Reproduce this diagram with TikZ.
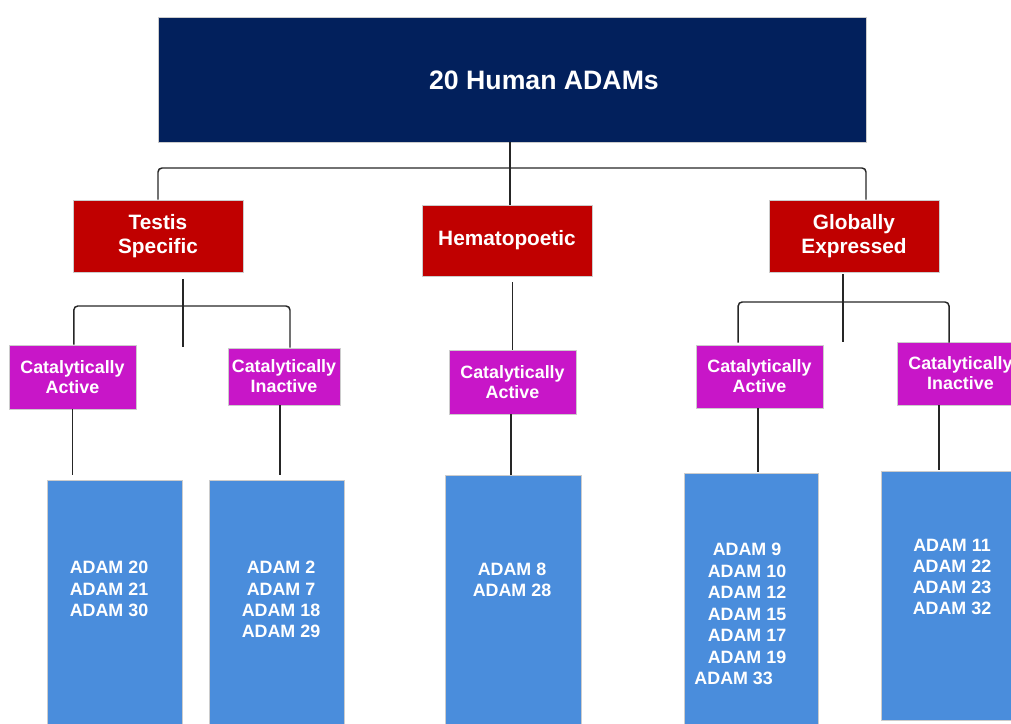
\documentclass[tikz,border=0pt]{standalone}
\usepackage{fontspec}
\setmainfont{Liberation Sans}
\usetikzlibrary{positioning}

\definecolor{adamnavy}{RGB}{2,32,92}
\definecolor{adamred}{RGB}{192,0,0}
\definecolor{adammagenta}{RGB}{200,22,200}
\definecolor{adamblue}{RGB}{74,141,220}

\tikzset{
  tree/.style={draw=black!85, line width=1.1pt},
  topbox/.style={fill=adamnavy, draw=black!20, line width=0.4pt, inner sep=0pt,
    minimum width=531pt, minimum height=93.75pt},
  toptext/.style={text=white, font=\fontsize{20}{24}\selectfont\bfseries},
  groupbox/.style={fill=adamred, draw=black!20, line width=0.4pt, inner sep=0pt,
    minimum width=127.5pt, minimum height=54pt, align=center, text=white,
    font=\fontsize{15.6}{17.5}\selectfont\bfseries},
  catbox/.style={fill=adammagenta, draw=black!20, line width=0.4pt, inner sep=0pt,
    minimum width=95.25pt, minimum height=48pt, align=center, text=white,
    font=\fontsize{13.4}{15}\selectfont\bfseries},
  listbox/.style={fill=adamblue, draw=black!20, line width=0.4pt, inner sep=0pt,
    anchor=north, minimum width=101.25pt, minimum height=195pt},
  listtext/.style={align=center, text=white, inner sep=0pt,
    font=\fontsize{13.4}{15.9}\selectfont\bfseries}
}

\begin{document}
\begin{tikzpicture}[x=0.75pt,y=-0.75pt]
\useasboundingbox (0,0) rectangle (1011,724);
\clip (0,0) rectangle (1011,724);

% top
\node[topbox] (adams) at (512,79.5) {};
\node[toptext] (title) at (544,80) {20 Human ADAMs};

% expression groups
\node[groupbox] (testis) at (158,236) {Testis\\Specific};
\node[groupbox, minimum height=53.25pt] (hemato) at (507,240.5) {Hematopoetic};
\node[groupbox] (global) at (854,236) {Globally\\Expressed};

% catalytic groups
\node[catbox] (tsact) at (72.5,377) {Catalytically\\Active};
\node[catbox, minimum width=84pt, minimum height=42.75pt] (tsinact) at (284,376.5) {Catalytically\\Inactive};
\node[catbox] (hmact) at (512.5,382) {Catalytically\\Active};
\node[catbox, minimum height=47.25pt] (glact) at (759.5,376.5) {Catalytically\\Active};
\node[catbox, minimum height=47.25pt] (glinact) at (960.5,373.5) {Catalytically\\Inactive};

% member lists
\node[listbox] (tsactl) at (114.5,480) {};
\node[listbox] (tsinactl) at (276.5,480) {};
\node[listbox, minimum width=102pt] (hmactl) at (513,475) {};
\node[listbox, minimum width=100.5pt] (glactl) at (751,473) {};
\node[listbox, minimum height=186.75pt] (glinactl) at (948.5,471) {};

\node[listtext] (tsactt) at (109,589) {ADAM 20\\ADAM 21\\ADAM 30};
\node[listtext] (tsinactt) at (281,599.5) {ADAM 2\\ADAM 7\\ADAM 18\\ADAM 29};
\node[listtext] (hmactt) at (512,580) {ADAM 8\\ADAM 28};
\node[listtext, font=\fontsize{13.4}{16.1}\selectfont\bfseries] (glactt) at (747,614) {ADAM 9\\ADAM 10\\ADAM 12\\ADAM 15\\ADAM 17\\ADAM 19\\\hspace*{-20pt}ADAM 33};
\node[listtext] (glinactt) at (952,577) {ADAM 11\\ADAM 22\\ADAM 23\\ADAM 32};

% connectors
\coordinate (split) at (510,168);
\draw[tree, rounded corners=3pt] (testis.north) |- (split) -| ([xshift=9pt]global.north);
\draw[tree] (adams.south -| split) -- (hemato.north -| split);

\coordinate (tssplit) at (183,306);
\draw[tree] ([yshift=-5pt]testis.south -| tssplit) -- ([yshift=-31pt]tssplit);
\draw[tree, rounded corners=3pt] ([xshift=1pt]tsact.north) |- (tssplit) -| ([xshift=4.5pt]tsinact.north);

\draw[tree] ([yshift=-4.5pt]hmact.north |- hemato.south) -- (hmact.north);

\coordinate (glsplit) at (843,302);
\draw[tree] ([yshift=-1.5pt]global.south -| glsplit) -- ([yshift=-30pt]glsplit);
\draw[tree, rounded corners=3pt] ([xshift=-16pt,yshift=1.5pt]glact.north) |- (glsplit) -| ([xshift=-8.6pt,yshift=-0.75pt]glinact.north);

\draw[tree] (tsact.south) -- ([yshift=3.75pt]tsact.south |- tsactl.north);
\draw[tree] ([xshift=-3pt]tsinact.south) -- ([xshift=-3pt,yshift=3.75pt]tsinact.south |- tsinactl.north);
\draw[tree] ([xshift=-1pt]hmact.south) -- ([xshift=-1pt]hmact.south |- hmactl.north);
\draw[tree] ([xshift=-1pt]glact.south) -- ([xshift=-1pt,yshift=0.75pt]glact.south |- glactl.north);
\draw[tree] ([xshift=-16pt]glinact.south) -- ([xshift=-16pt,yshift=0.75pt]glinact.south |- glinactl.north);
\end{tikzpicture}
\end{document}
